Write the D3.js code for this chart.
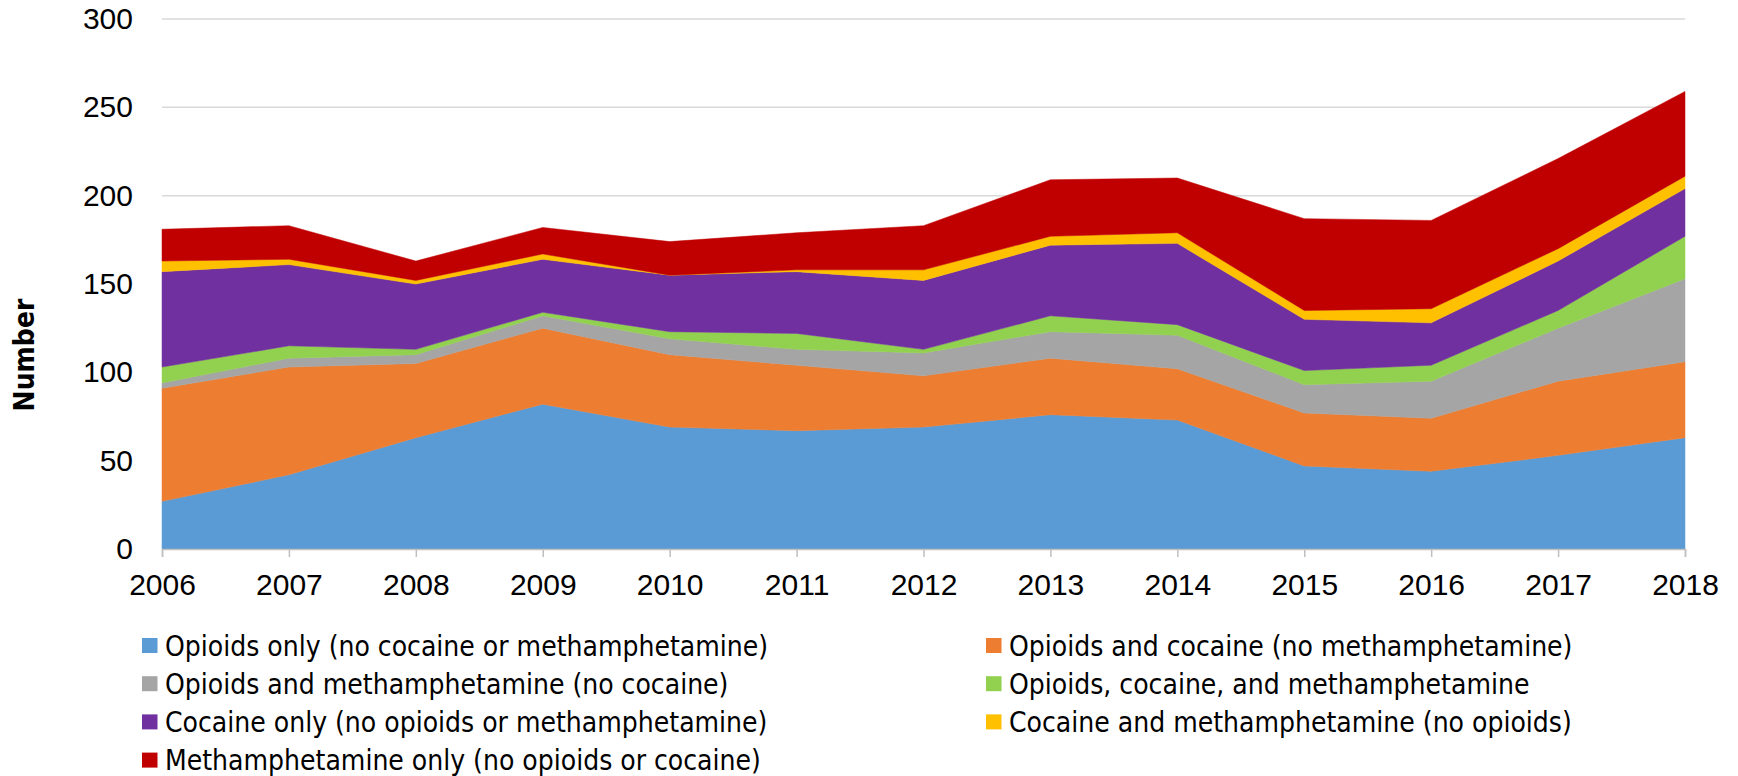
<!DOCTYPE html>
<html>
<head>
<meta charset="utf-8">
<script src="https://cdn.jsdelivr.net/npm/d3@7"></script>
<style>
  body { margin: 0; background: #fff; }
  svg { display: block; font-family: "Liberation Sans Narrow", "DejaVu Sans Condensed", "Liberation Sans", sans-serif; }
</style>
</head>
<body>
<svg width="1738" height="776"></svg>
<script>
// 年份
const years = [2006, 2007, 2008, 2009, 2010, 2011, 2012, 2013, 2014, 2015, 2016, 2017, 2018];

// 各類別數量
const opioidsOnly      = [27, 42, 63, 82, 69, 67, 69, 76, 73, 47, 44, 53, 63];
const opioidsCocaine   = [64, 61, 42, 43, 41, 37, 29, 32, 29, 30, 30, 42, 43];
const opioidsMeth      = [3, 5, 5, 7, 9, 9, 13, 15, 19, 16, 21, 30, 47];
const opioidsCocMeth   = [9, 7, 3, 2, 4, 9, 2, 9, 6, 8, 9, 10, 24];
const cocaineOnly      = [54, 46, 37, 30, 32, 35, 39, 40, 46, 29, 24, 28, 27];
const cocaineMeth      = [6, 3, 2, 3, 0, 1, 6, 5, 6, 5, 8, 7, 7];
const methOnly         = [18, 19, 11, 15, 19, 21, 25, 32, 31, 52, 50, 51, 48];

const seriesNames = [
    'Opioids only (no cocaine or methamphetamine)',
    'Opioids and cocaine (no methamphetamine)',
    'Opioids and methamphetamine (no cocaine)',
    'Opioids, cocaine, and methamphetamine',
    'Cocaine only (no opioids or methamphetamine)',
    'Cocaine and methamphetamine (no opioids)',
    'Methamphetamine only (no opioids or cocaine)'
];
const seriesColors = ['#5B9BD5', '#ED7D31', '#A5A5A5', '#92D050', '#7030A0', '#FFC000', '#C00000'];
const yTicks = [0, 50, 100, 150, 200, 250, 300];

function render() {
    const svg = d3.select('svg');
    const left = 162, right = 1685, top = 19, bottom = 549;

    const allSeries = [opioidsOnly, opioidsCocaine, opioidsMeth, opioidsCocMeth, cocaineOnly, cocaineMeth, methOnly];

    // 轉成 stack 需要的表格
    const table = years.map((year, i) => {
        const row = { year };
        seriesNames.forEach((name, k) => { row[name] = allSeries[k][i]; });
        return row;
    });

    const x = d3.scaleLinear().domain([2006, 2018]).range([left, right]);
    const y = d3.scaleLinear().domain([0, 300]).range([bottom, top]);

    // 格線
    svg.append('g')
        .selectAll('line')
        .data(yTicks.filter(t => t > 0))
        .enter()
        .append('line')
        .attr('x1', left)
        .attr('x2', right)
        .attr('y1', d => y(d))
        .attr('y2', d => y(d))
        .attr('stroke', '#d9d9d9')
        .attr('stroke-width', 1.5)

    const stack = d3.stack().keys(seriesNames);
    const layers = stack(table);

    const area = d3.area()
        .x(d => x(d.data.year))
        .y0(d => y(d[0]))
        .y1(d => y(d[1]));

    svg.append('g')
        .selectAll('path')
        .data(layers)
        .enter()
        .append('path')
        .attr('d', area)
        .attr('fill', (d, i) => seriesColors[i])
        .attr('stroke', (d, i) => seriesColors[i])
        .attr('stroke-width', 0.5)

    // x 軸
    const xAxis = d3.axisBottom(x)
        .tickValues(years)
        .tickFormat(d3.format('d'))
        .tickSize(8)
        .tickPadding(17);

    const gx = svg.append('g')
        .attr('transform', `translate(0,${bottom})`)
        .call(xAxis);
    gx.select('.domain').attr('stroke', '#bfbfbf').attr('stroke-width', 1.5);
    gx.selectAll('.tick line').attr('stroke', '#bfbfbf').attr('stroke-width', 1.5);
    gx.selectAll('text')
        .attr('fill', '#000')
        .style('font-size', '30px')
        .style('font-family', 'inherit');

    // y 軸
    const yAxis = d3.axisLeft(y)
        .tickValues(yTicks)
        .tickSize(0)
        .tickPadding(29);

    const gy = svg.append('g')
        .attr('transform', `translate(${left},0)`)
        .call(yAxis);
    gy.select('.domain').remove();
    gy.selectAll('text')
        .attr('fill', '#000')
        .style('font-size', '30px')
        .style('font-family', 'inherit');

    svg.append('text')
        .text('Number')
        .attr('transform', 'translate(34,355) rotate(-90)')
        .attr('text-anchor', 'middle')
        .style('font-size', '28px')
        .style('font-weight', 'bold')

    // 圖例 (兩欄)
    const legend = svg.append('g')
        .selectAll('g')
        .data(seriesNames)
        .enter()
        .append('g')
        .attr('transform', (d, i) => `translate(${i % 2 === 0 ? 142 : 986},${645.5 + Math.floor(i / 2) * 38.2})`)

    legend.append('rect')
        .attr('x', 0)
        .attr('y', -7.5)
        .attr('width', 15.5)
        .attr('height', 15)
        .attr('fill', (d, i) => seriesColors[i])

    legend.append('text')
        .text(d => d)
        .attr('x', 23)
        .attr('dy', '0.36em')
        .style('font-size', '28px')
}

render();
</script>
</body>
</html>
